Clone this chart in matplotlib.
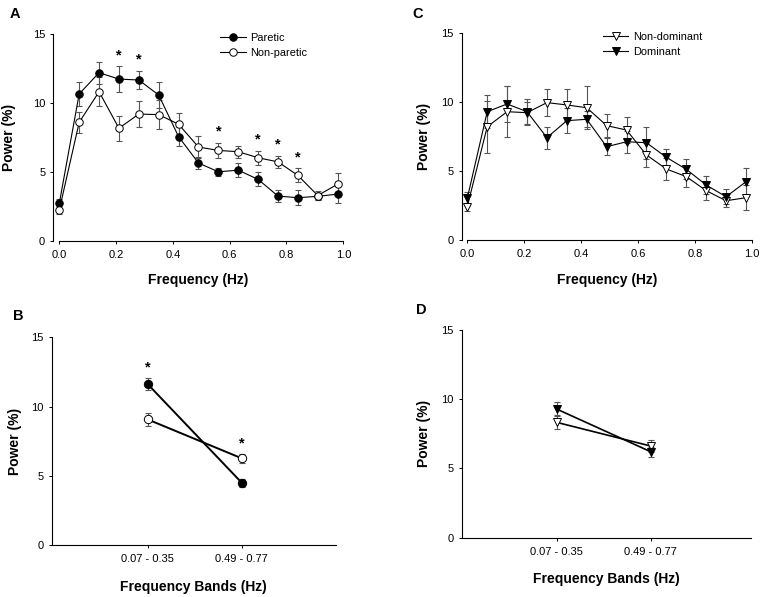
import matplotlib
matplotlib.use('Agg')
import matplotlib.pyplot as plt
import numpy as np

plt.rcParams['font.family'] = ['Liberation Sans', 'DejaVu Sans']

# ---------------- data ----------------
freq = [0.0, 0.07, 0.14, 0.21, 0.28, 0.35, 0.42, 0.49, 0.56, 0.63, 0.70, 0.77, 0.84, 0.91, 0.98]

paretic = [2.71, 10.65, 12.19, 11.73, 11.66, 10.57, 7.55, 5.64, 5.00, 5.12, 4.45, 3.24, 3.12, 3.22, 3.38]
paretic_err = [0.35, 0.90, 0.80, 0.92, 0.67, 0.93, 0.68, 0.42, 0.29, 0.49, 0.50, 0.44, 0.56, 0.25, 0.68]
nonparetic = [2.23, 8.59, 10.81, 8.16, 9.19, 9.15, 8.45, 6.80, 6.55, 6.46, 6.02, 5.72, 4.74, 3.28, 4.10]
nonparetic_err = [0.30, 0.75, 1.04, 0.90, 0.92, 1.05, 0.80, 0.77, 0.54, 0.44, 0.50, 0.44, 0.51, 0.30, 0.78]
sig_A = [0.21, 0.28, 0.56, 0.70, 0.77, 0.84]

nondominant = [2.42, 8.22, 9.31, 9.24, 9.97, 9.80, 9.60, 8.30, 7.98, 6.17, 5.15, 4.60, 3.58, 2.85, 3.07]
nondominant_err = [0.30, 1.90, 1.86, 0.80, 0.96, 1.16, 1.58, 0.84, 0.97, 0.85, 0.80, 0.78, 0.68, 0.48, 0.89]
dominant = [3.03, 9.31, 9.87, 9.31, 7.43, 8.66, 8.76, 6.77, 7.13, 7.06, 6.00, 5.13, 3.99, 3.14, 4.23]
dominant_err = [0.47, 1.20, 1.30, 0.95, 0.80, 0.92, 0.58, 0.60, 0.80, 1.16, 0.60, 0.72, 0.68, 0.54, 1.02]

bands = ["0.07 - 0.35", "0.49 - 0.77"]
band_paretic = [11.62, 4.50]
band_paretic_err = [0.42, 0.30]
band_nonparetic = [9.07, 6.26]
band_nonparetic_err = [0.47, 0.32]
sig_B = ["0.07 - 0.35", "0.49 - 0.77"]

band_dominant = [9.29, 6.21]
band_dominant_err = [0.53, 0.36]
band_nondominant = [8.33, 6.62]
band_nondominant_err = [0.50, 0.43]

freq_ticks = [0.0, 0.2, 0.4, 0.6, 0.8, 1.0]
power_ticks = [0, 5, 10, 15]

# ---------------- figure ----------------
W, H = 762, 597
fig = plt.figure(figsize=(W / 100, H / 100), dpi=100)


def add_axes_px(left, top, right, bottom):
    return fig.add_axes([left / W, 1 - bottom / H, (right - left) / W, (bottom - top) / H])


ERR_C = '#555555'
TICK_FS = 8
LAB_FS = 10


def style(ax):
    for s in ['top', 'right']:
        ax.spines[s].set_visible(False)
    for s in ['left', 'bottom']:
        ax.spines[s].set_linewidth(0.8)
    ax.tick_params(axis='both', direction='out', length=2.5, width=0.7, labelsize=TICK_FS)
    ax.tick_params(axis='x', pad=4.2)
    ax.tick_params(axis='y', pad=3.3)
    ax.set_ylim(0, 15)
    ax.set_yticks(power_ticks)
    ax.set_yticklabels([str(t) for t in power_ticks])


def series(ax, x, y, e, marker, filled, lw=0.8, ms=5.4):
    ax.errorbar(x, y, yerr=e, fmt='none', ecolor=ERR_C, elinewidth=0.8,
                capsize=2.3, capthick=0.8, zorder=2)
    line, = ax.plot(x, y, '-', color='black', lw=lw, marker=marker, ms=ms,
                    mfc='black' if filled else 'white', mec='black', mew=0.7, zorder=3)
    return line


def star(ax, x, y):
    ax.annotate('*', xy=(x, y), xytext=(0, -5.6), textcoords='offset points',
                ha='center', va='baseline', fontsize=10.5, fontweight='bold')


# ---- Panel A ----
axA = add_axes_px(53.3, 34, 343.3, 240.7)
style(axA)
lA1 = series(axA, freq, paretic, paretic_err, 'o', True)
lA2 = series(axA, freq, nonparetic, nonparetic_err, 'o', False)
for xs in sig_A:
    i = freq.index(xs)
    top = max(paretic[i] + paretic_err[i], nonparetic[i] + nonparetic_err[i])
    star(axA, xs, top + 1.08)
axA.set_xlim(-0.0211, 1.0)
axA.spines['bottom'].set_bounds(0, 1.0)
axA.set_xticks(freq_ticks)
axA.set_xticklabels([f"{t:.1f}" for t in freq_ticks])
axA.set_xlabel('Frequency (Hz)', fontsize=LAB_FS, fontweight='bold')
axA.set_ylabel('Power (%)', fontsize=LAB_FS, fontweight='bold')
axA.xaxis.set_label_coords(0.5, -0.155)
axA.yaxis.set_label_coords(-0.128, 0.5)
axA.legend([lA1, lA2], ['Paretic', 'Non-paretic'], frameon=False, fontsize=7.9,
           loc='upper left', bbox_to_anchor=(220 / W, 1 - 33.3 / H),
           bbox_transform=fig.transFigure, borderpad=0, borderaxespad=0,
           handlelength=2.35, handletextpad=0.42, labelspacing=0.45)

# ---- Panel C ----
axC = add_axes_px(461.7, 33.3, 751.7, 240)
style(axC)
lC1 = series(axC, freq, nondominant, nondominant_err, 'v', False, ms=5.8)
lC2 = series(axC, freq, dominant, dominant_err, 'v', True, ms=5.8)
axC.set_xlim(-0.0197, 1.0)
axC.spines['bottom'].set_bounds(0, 1.0)
axC.set_xticks(freq_ticks)
axC.set_xticklabels([f"{t:.1f}" for t in freq_ticks])
axC.set_xlabel('Frequency (Hz)', fontsize=LAB_FS, fontweight='bold')
axC.set_ylabel('Power (%)', fontsize=LAB_FS, fontweight='bold')
axC.xaxis.set_label_coords(0.5, -0.158)
axC.yaxis.set_label_coords(-0.105, 0.5)
axC.legend([lC1, lC2], ['Non-dominant', 'Dominant'], frameon=False, fontsize=7.9,
           loc='upper left', bbox_to_anchor=(602.7 / W, 1 - 31.8 / H),
           bbox_transform=fig.transFigure, borderpad=0, borderaxespad=0,
           handlelength=2.35, handletextpad=0.42, labelspacing=0.45)

# ---- Panel B ----
bx = [1, 2]
axB = add_axes_px(51.7, 337.3, 335.7, 545)
style(axB)
series(axB, bx, band_paretic, band_paretic_err, 'o', True, lw=1.4, ms=6)
series(axB, bx, band_nonparetic, band_nonparetic_err, 'o', False, lw=1.4, ms=6)
for b in sig_B:
    i = bands.index(b)
    top = max(band_paretic[i] + band_paretic_err[i], band_nonparetic[i] + band_nonparetic_err[i])
    star(axB, bx[i], top + 1.04)
axB.set_xlim(-0.021, 3.0)
axB.set_xticks(bx)
axB.set_xticklabels(bands)
axB.set_xlabel('Frequency Bands (Hz)', fontsize=LAB_FS, fontweight='bold')
axB.set_ylabel('Power (%)', fontsize=LAB_FS, fontweight='bold')
axB.xaxis.set_label_coords(0.5, -0.167)
axB.yaxis.set_label_coords(-0.105, 0.5)

# ---- Panel D ----
axD = add_axes_px(461.7, 330, 750.7, 537.7)
style(axD)
series(axD, bx, band_nondominant, band_nondominant_err, 'v', False, lw=1.2, ms=6)
series(axD, bx, band_dominant, band_dominant_err, 'v', True, lw=1.2, ms=6)
axD.set_xlim(-0.0106, 3.064)
axD.set_xticks(bx)
axD.set_xticklabels(bands)
axD.set_xlabel('Frequency Bands (Hz)', fontsize=LAB_FS, fontweight='bold')
axD.set_ylabel('Power (%)', fontsize=LAB_FS, fontweight='bold')
axD.xaxis.set_label_coords(0.5, -0.163)
axD.yaxis.set_label_coords(-0.107, 0.5)

# panel letters
for lab, px, py in [('A', 9.3, 7.5), ('C', 412, 7.5), ('B', 13, 308.5), ('D', 416, 303.5)]:
    fig.text(px / W, 1 - py / H, lab, ha='left', va='top', fontsize=10.5, fontweight='bold')

fig.savefig('out.png', dpi=100)
